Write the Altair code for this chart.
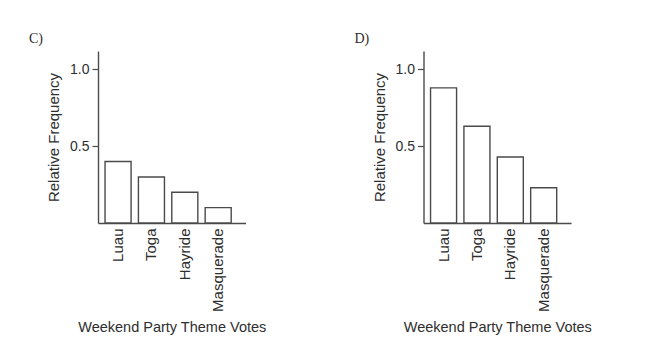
import altair as alt
import pandas as pd

themes = ["Luau", "Toga", "Hayride", "Masquerade"]
freq_c = [0.40, 0.30, 0.20, 0.10]
freq_d = [0.88, 0.63, 0.43, 0.23]
panel_labels = ["C)", "D)"]
y_ticks = [0.5, 1.0]

TEXT = "#2e2e2e"
LINE = "#4a4a4a"
FONT = "Liberation Sans"


def panel(vals, label):
    df = pd.DataFrame({"Theme": themes, "Freq": vals})
    return (
        alt.Chart(df, title=alt.TitleParams(
            label, anchor="start", frame="group", dx=-69, offset=5,
            font="Liberation Serif", fontSize=14, fontWeight="normal", color=TEXT))
        .mark_bar(fill="white", stroke=LINE, strokeWidth=1.4)
        .encode(
            x=alt.X("Theme:N", sort=themes,
                    title="Weekend Party Theme Votes",
                    scale=alt.Scale(paddingInner=0.22, paddingOuter=0.32, align=0.33),
                    axis=alt.Axis(labelAngle=-90, tickSize=0, ticks=False,
                                  labelPadding=5, titlePadding=9,
                                  domainColor=LINE, domainWidth=1.4,
                                  labelFont=FONT, labelFontSize=15, labelColor=TEXT,
                                  titleFont=FONT, titleFontSize=14.5, titleColor=TEXT,
                                  titleFontWeight="normal")),
            y=alt.Y("Freq:Q", title="Relative Frequency",
                    scale=alt.Scale(domain=[0, 1.12], nice=False, zero=True),
                    axis=alt.Axis(values=y_ticks, format=".1f", grid=False,
                                  tickSize=6, tickColor=LINE, tickWidth=1.2,
                                  domainColor=LINE, domainWidth=1.4,
                                  labelPadding=3, titlePadding=8,
                                  labelFont=FONT, labelFontSize=14, labelColor=TEXT,
                                  titleFont=FONT, titleFontSize=15, titleColor=TEXT,
                                  titleFontWeight="normal")),
        )
        .properties(width=147.5, height=172)
    )


chart = (
    alt.hconcat(panel(freq_c, panel_labels[0]), panel(freq_d, panel_labels[1]),
                spacing=177.5, bounds="flush")
    .configure_view(stroke=None)
    .properties(padding={"left": 29, "top": 32, "right": 5, "bottom": 5},
                background="white")
)

chart.save("out.html", embed_options={"renderer": "svg", "actions": False})
